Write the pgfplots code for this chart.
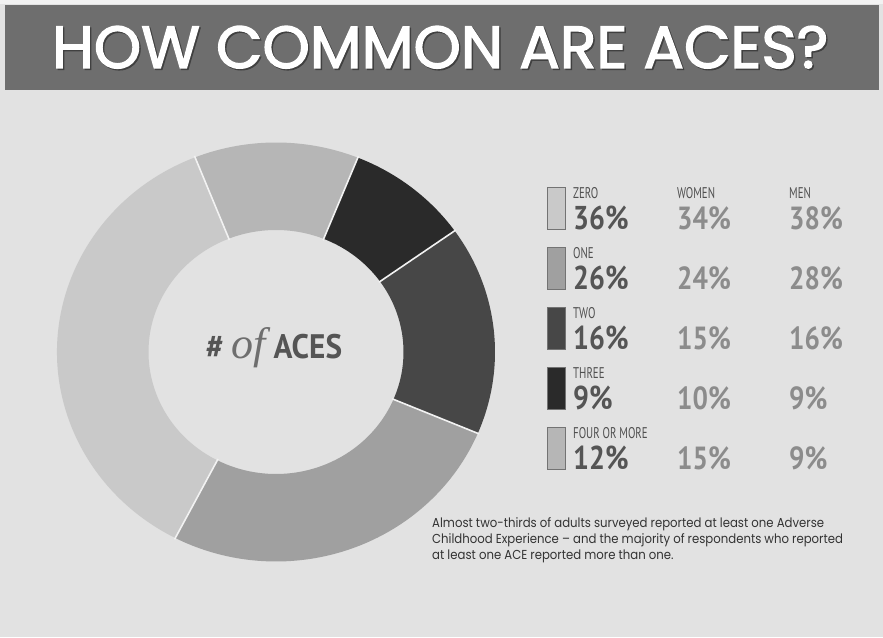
\documentclass[border=0pt]{standalone}
\usepackage{pgfplots}
\pgfplotsset{compat=1.18}
\usepackage{pgfplotstable}
\usepackage{fontspec}
\setmainfont{Lato}
\newfontfamily\titlefont[FakeBold=2.2]{Poppins}
\newfontfamily\labfont[FakeStretch=0.7]{PT Sans}
\newfontfamily\numfont[FakeStretch=0.85]{PT Sans}
\newfontfamily\centfont[FakeStretch=0.92]{PT Sans}
\newfontfamily\bodyfont[FakeStretch=0.9]{Poppins}
\newfontfamily\offont{Liberation Serif}

\definecolor{bg}{HTML}{E2E2E2}
\definecolor{banner}{HTML}{6E6E6E}
\definecolor{seg0}{HTML}{C9C9C9}
\definecolor{seg1}{HTML}{A0A0A0}
\definecolor{seg2}{HTML}{474747}
\definecolor{seg3}{HTML}{2A2A2A}
\definecolor{seg4}{HTML}{B6B6B6}
\definecolor{sep}{HTML}{F2F2F2}
\definecolor{txtdark}{HTML}{555555}
\definecolor{txtlab}{HTML}{505050}
\definecolor{txtmid}{HTML}{8C8C8C}
\definecolor{txtbody}{HTML}{333333}

\pgfplotstableread[col sep=comma]{
label,total,women,men
ZERO,36,34,38
ONE,26,24,28
TWO,16,15,16
THREE,9,10,9
FOUR OR MORE,12,15,9
}\aces

\begin{document}
\begin{tikzpicture}[x=1pt,y=1pt]
\useasboundingbox (0,0) rectangle (883,637);
\fill[bg] (0,0) rectangle (883,637);
\fill[white!95!black] (0,633) rectangle (883,637);
\fill[banner] (5,547) rectangle (879,632);
% title with shadow
\node[anchor=base west, inner sep=0pt, text=black!75] at (53.5,567.5)
  {\resizebox{776pt}{42pt}{\titlefont HOW COMMON ARE ACES?}};
\node[anchor=base west, inner sep=0pt, text=white] at (52,569)
  {\resizebox{776pt}{42pt}{\titlefont HOW COMMON ARE ACES?}};

% cumulative angles from the data
\xdef\sumv{0}
\foreach \i in {0,...,4}{%
  \pgfplotstablegetelem{\i}{total}\of\aces
  \pgfmathsetmacro\t{\sumv+\pgfplotsretval}\xdef\sumv{\t}}
\xdef\cur{111.7}
\foreach \i in {0,...,4}{%
  \pgfplotstablegetelem{\i}{total}\of\aces
  \pgfmathsetmacro\nx{\cur+\pgfplotsretval/\sumv*360}%
  \expandafter\xdef\csname aS\i\endcsname{\cur}%
  \expandafter\xdef\csname aE\i\endcsname{\nx}%
  \xdef\cur{\nx}}

\begin{axis}[at={(0,0)}, anchor=south west, scale only axis,
  width=883pt, height=637pt, xmin=0, xmax=883, ymin=0, ymax=637,
  hide axis, clip=false]
\pgfplotsextra{
  \foreach \i in {0,...,4}{
    \pgfmathsetmacro\A{\csname aS\i\endcsname}
    \pgfmathsetmacro\B{\csname aE\i\endcsname}
    \fill[seg\i] (axis cs:276,285) ++(\A:219pt and 209.5pt)
      arc[start angle=\A, end angle=\B, x radius=219pt, y radius=209.5pt]
      -- ++(\B:-91.5pt and -87.5pt)
      arc[start angle=\B, end angle=\A, x radius=127.5pt, y radius=122pt] -- cycle;
  }
  \foreach \i in {0,...,4}{
    \pgfmathsetmacro\A{\csname aS\i\endcsname}
    \draw[sep, line width=1.6pt] (axis cs:276,285) ++(\A:126pt and 120.5pt) -- ++(\A:94.5pt and 90.5pt);
  }
}
\end{axis}

% centre label
\node[anchor=base, inner sep=0pt, text=txtdark] at (274,278)
  {\centfont\bfseries\fontsize{34}{34}\selectfont \#\ {\color{txtdark!85}\offont\itshape\mdseries\fontsize{44}{44}\selectfont of}\ ACES};

% legend table
\foreach \i in {0,...,4}{
  \pgfmathsetmacro\yt{637-187-60*\i}
  \pgfmathsetmacro\yb{637-229-60*\i}
  \fill[seg\i, draw=black!55, line width=0.3pt] (547,\yb) rectangle (565,\yt);
  \pgfplotstablegetelem{\i}{label}\of\aces
  \node[anchor=base west, inner sep=0pt, text=txtlab] at (573,{637-199-60*\i})
    {\labfont\fontsize{15.5}{15.5}\selectfont \pgfplotsretval};
  \pgfplotstablegetelem{\i}{total}\of\aces
  \node[anchor=base west, inner sep=0pt, text=txtdark] at (573,{637-230-60*\i})
    {\numfont\bfseries\fontsize{33}{33}\selectfont \pgfplotsretval\%};
  \pgfplotstablegetelem{\i}{women}\of\aces
  \node[anchor=base west, inner sep=0pt, text=txtmid] at (677,{637-230-60*\i})
    {\numfont\bfseries\fontsize{32}{32}\selectfont \pgfplotsretval\%};
  \pgfplotstablegetelem{\i}{men}\of\aces
  \node[anchor=base west, inner sep=0pt, text=txtmid] at (789,{637-230-60*\i})
    {\numfont\bfseries\fontsize{32}{32}\selectfont \pgfplotsretval\%};
}
\node[anchor=base west, inner sep=0pt, text=txtlab] at (677,438)
  {\labfont\fontsize{15.5}{15.5}\selectfont WOMEN};
\node[anchor=base west, inner sep=0pt, text=txtlab] at (789,438)
  {\labfont\fontsize{15.5}{15.5}\selectfont MEN};

% note
\begin{scope}[every node/.style={anchor=base west, inner sep=0pt, text=txtbody, font=\bodyfont\fontsize{13}{13}\selectfont}]
\node at (432,109) {Almost two-thirds of adults surveyed reported at least one Adverse};
\node at (432,93) {Childhood Experience – and the majority of respondents who reported};
\node at (432,77) {at least one ACE reported more than one.};
\end{scope}
\end{tikzpicture}
\end{document}
